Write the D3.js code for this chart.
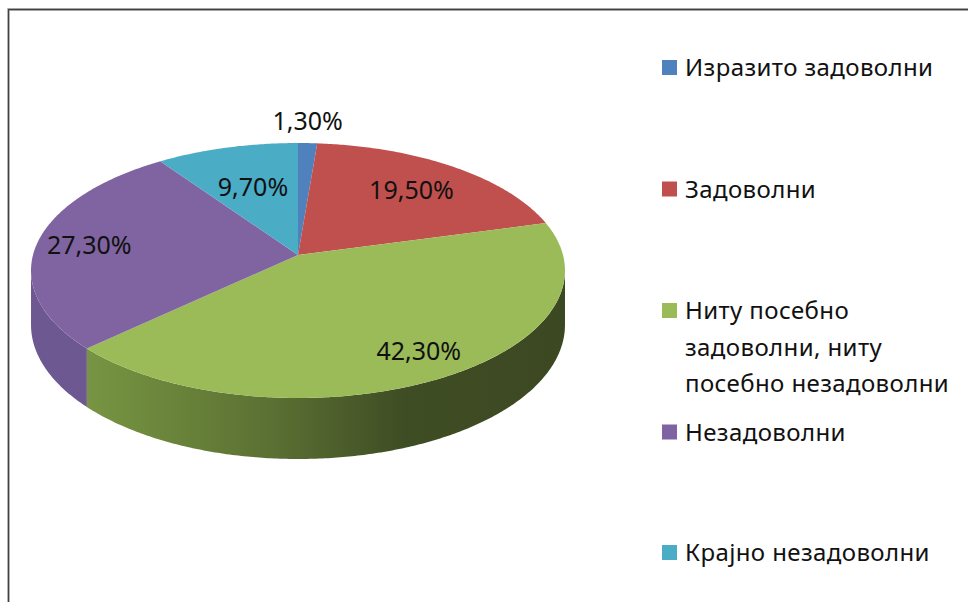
<!DOCTYPE html>
<html>
<head>
<meta charset="utf-8">
<script src="https://cdn.jsdelivr.net/npm/d3@7"></script>
<style>
  body { margin: 0; background: #fff; }
  svg { display: block; }
</style>
</head>
<body>
<div id="pieChart"></div>
<script>
// categories and values (percent)
var categories = ["Изразито задоволни", "Задоволни", "Ниту посебно задоволни, ниту посебно незадоволни", "Незадоволни", "Крајно незадоволни"];
var values = [1.3, 19.5, 42.3, 27.3, 9.7];
var valueLabels = ["1,30%", "19,50%", "42,30%", "27,30%", "9,70%"];
var legendLines = [["Изразито задоволни"], ["Задоволни"], ["Ниту посебно", "задоволни, ниту", "посебно незадоволни"], ["Незадоволни"], ["Крајно незадоволни"]];
var colors = ["#4F81BD", "#C0504D", "#9BBB59", "#8064A2", "#4BACC6"];

var width = 968, height = 602;

// pie geometry (perspective ellipse)
var cx = 298, cy = 255, a = 265, b = 125.6, p = 0.1216, depth = 53.6;

var svg = d3.select("#pieChart").append("svg")
    .attr("width", width)
    .attr("height", height);

// chart border
svg.append("path")
    .attr("d", "M8.5," + height + "V9.5H" + width)
    .attr("fill", "none")
    .attr("stroke", "#c8c8c8")
    .attr("stroke-width", 3);
svg.append("path")
    .attr("d", "M8.5," + height + "V9.5H" + width)
    .attr("fill", "none")
    .attr("stroke", "#404040")
    .attr("stroke-width", 1.3);

// angles start at 12 o'clock and go clockwise
var pie = d3.pie().sort(null).value(function(d) { return d; });
var arcs = pie(values);
var total = d3.sum(values);

// project a point of the disc (angle, radius fraction, drop) to screen
function proj(t, r, drop) {
  var u = Math.sin(t) * r, v = -Math.cos(t) * r;
  var s = 1 / (1 - p * v);
  return [cx + a * u * s, cy + b * v * s + (drop || 0) * s];
}

function rimPoints(t0, t1, drop) {
  var n = Math.max(2, Math.ceil((t1 - t0) / 0.01));
  return d3.range(n + 1).map(function(i) { return proj(t0 + (t1 - t0) * i / n, 1, drop); });
}

var line = d3.line();
var defs = svg.append("defs");

// shading for the side walls
var wallStops = {
  2: [["0", "#809e4c"], ["0.2", "#6f8b3d"], ["0.45", "#5b7033"], ["0.7", "#3f4d24"], ["1", "#3c4822"]],
  3: [["0", "#6d5892"], ["1", "#6a548d"]]
};
Object.keys(wallStops).forEach(function(k) {
  var g = defs.append("linearGradient")
      .attr("id", "wall" + k)
      .attr("gradientUnits", "userSpaceOnUse")
      .attr("x1", cx - a).attr("x2", cx + a)
      .attr("y1", 0).attr("y2", 0);
  wallStops[k].forEach(function(s) {
    g.append("stop").attr("offset", s[0]).attr("stop-color", s[1]);
  });
});

// visible side of the disc (silhouette angles)
var front0 = Math.acos(-p), front1 = 2 * Math.PI - Math.acos(-p);

arcs.forEach(function(d, i) {
  var t0 = Math.max(d.startAngle, front0), t1 = Math.min(d.endAngle, front1);
  if (t1 <= t0) return;
  var top = rimPoints(t0, t1, 0);
  var bot = rimPoints(t0, t1, depth).reverse();
  svg.append("path")
      .attr("d", line(top.concat(bot)) + "Z")
      .attr("fill", wallStops[i] ? "url(#wall" + i + ")" : d3.color(colors[i]).darker(0.6));
});

// top face slices
arcs.forEach(function(d, i) {
  var pts = [proj(0, 0)].concat(rimPoints(d.startAngle, d.endAngle, 0));
  svg.append("path")
      .attr("d", line(pts) + "Z")
      .attr("fill", colors[i]);
});

// data labels
arcs.forEach(function(d, i) {
  var mid = (d.startAngle + d.endAngle) / 2;
  var frac = d.value / total;
  var pos;
  if (frac < 0.05) {
    pos = proj(mid, 1, 0);
    pos[1] -= 22;
  } else {
    pos = proj(mid, Math.min(0.8, 0.5 + frac * 1.1), 0);
  }
  if (frac > 0.4) pos[0] += 8;
  svg.append("text")
      .attr("x", pos[0])
      .attr("y", pos[1])
      .attr("dy", "0.36em")
      .style("text-anchor", "middle")
      .style("font", "25px 'Noto Sans'")
      .style("fill", "#111")
      .text(valueLabels[i]);
});

// legend
var legendY = [67.5, 189, 310.5, 432, 552.5];
var legend = svg.append("g").attr("transform", "translate(662,0)");
legendLines.forEach(function(lines, i) {
  legend.append("rect")
      .attr("x", 0)
      .attr("y", legendY[i] - 7.5)
      .attr("width", 15)
      .attr("height", 15)
      .attr("fill", colors[i]);
  var t = legend.append("text")
      .attr("x", 23)
      .attr("y", legendY[i])
      .style("font", "24px 'Noto Sans'")
      .style("letter-spacing", "0.4px")
      .style("fill", "#111");
  lines.forEach(function(s, j) {
    t.append("tspan")
        .attr("x", 23)
        .attr("dy", j == 0 ? "0.36em" : "36.5px")
        .text(s);
  });
});
</script>
</body>
</html>
